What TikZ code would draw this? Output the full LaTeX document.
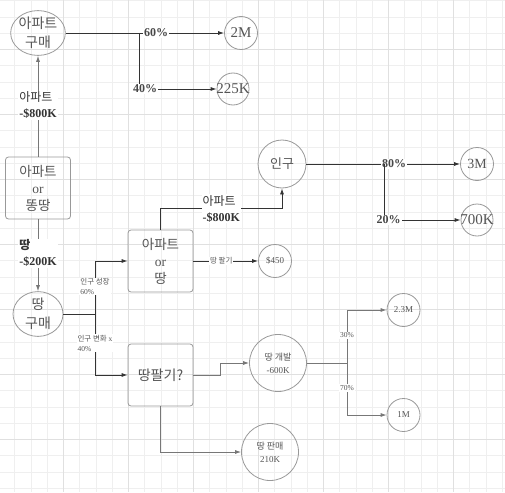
\documentclass[tikz,border=0pt]{standalone}
\usepackage{fontspec}
\setmainfont{Liberation Serif}
\newfontfamily\kr{Noto Sans CJK KR}
\usetikzlibrary{shapes.geometric,arrows.meta}
\definecolor{gmin}{HTML}{EFEFEF}
\definecolor{gmaj}{HTML}{E0E0E0}
\definecolor{bord}{HTML}{999999}
\definecolor{txt}{HTML}{555555}
\definecolor{edgec}{HTML}{333333}
\definecolor{edgel}{HTML}{777777}
\begin{document}
\begin{tikzpicture}[x=1pt,y=-1pt,
  ell/.style={ellipse,draw=bord,line width=0.8pt,inner sep=0pt,minimum width=50pt,minimum height=38pt,align=center,text=txt,font=\kr\fontsize{14}{19}\selectfont},
  boxn/.style={rectangle,rounded corners=3pt,draw=bord,line width=0.8pt,inner sep=0pt,minimum width=65pt,minimum height=62pt,align=center,text=txt,font=\kr\fontsize{13.5}{17}\selectfont},
  bigc/.style={circle,draw=bord,line width=0.8pt,inner sep=0pt,minimum size=33pt,text=txt,font=\fontsize{15}{18}\selectfont},
  smc/.style={circle,draw=bord,line width=0.8pt,inner sep=0pt,minimum size=33pt,text=txt,font=\fontsize{9}{11}\selectfont},
  midc/.style={circle,draw=bord,line width=0.8pt,inner sep=0pt,minimum size=57pt,align=center,text=txt,font=\fontsize{9}{13}\selectfont},
  edge/.style={draw=edgec,line width=0.8pt},
  edgeL/.style={draw=edgel,line width=0.8pt},
  arr/.style={edge,-{Latex[length=6pt,width=4pt]}},
  arrl/.style={edgeL,-{Latex[length=6pt,width=4pt]}},
  pct/.style={fill=white,inner sep=1pt,text=edgec!90,font=\bfseries\fontsize{12}{14}\selectfont},
  mlab/.style={fill=white,inner sep=1pt,align=left,text=edgec,font=\bfseries\fontsize{12}{16}\selectfont},
  slab/.style={fill=white,inner sep=1pt,align=left,text=txt,font=\fontsize{7.5}{9.5}\selectfont}
]
\useasboundingbox (0,0) rectangle (505,492);
\fill[white] (0,0) rectangle (505,492);
% grid
\foreach \i in {0,...,30} {
  \draw[gmin,line width=0.5pt] ({14.55+16.25*\i},0) -- ({14.55+16.25*\i},492);
  \draw[gmin,line width=0.5pt] (0,{0.55+16.25*\i}) -- (505,{0.55+16.25*\i});
}
\foreach \k in {1,...,7} {
  \draw[gmaj,line width=0.7pt] ({-1.7+65*\k},0) -- ({-1.7+65*\k},492);
}
\foreach \k in {0,...,6} {
  \draw[gmaj,line width=0.7pt] (0,{49.3+65*\k}) -- (505,{49.3+65*\k});
}
% nodes
\node[ell] (apt) at (38,33) {아파트\\구매};
\node[bigc] (m2) at (241,33) {\makebox[0pt]{2M}};
\node[bigc,minimum size=32pt] (k225) at (233,89) {\makebox[0pt]{225K}};
\node[boxn] (ab) at (38,188) {아파트\\{\rmfamily or}\\똥땅};
\node[ell] (land) at (38,314) {땅\\구매};
\node[boxn] (ao) at (160.5,261) {아파트\\{\rmfamily or}\\땅};
\node[boxn,font=\kr\fontsize{14}{17}\selectfont] (lb) at (160.5,375) {땅팔기?};
\node[smc] (c450) at (275,261) {\$450};
\node[circle,draw=bord,line width=0.8pt,inner sep=0pt,minimum size=48pt,text=txt,font=\kr\fontsize{13}{15}\selectfont] (pop) at (282,164) {인구};
\node[bigc,font=\fontsize{14}{16}\selectfont] (m3) at (477,164) {\makebox[0pt]{3M}};
\node[bigc,minimum size=32pt] (k700) at (477,220) {\makebox[0pt]{700K}};
\node[midc] (dev) at (278,363) {{\kr 땅 개발}\\-600K};
\node[smc] (m23) at (403.5,310) {2.3M};
\node[smc] (m1) at (403.5,415) {1M};
\node[midc] (sale) at (270,452) {{\kr 땅 판매}\\210K};
% coordinates
\coordinate (b1) at (139,33);
\coordinate (b2) at (95,314);
\coordinate (b4) at (384,164);
\coordinate (b3) at (347,363);
% edges
\draw[arr] (apt.east) -- node[pct,pos=0.57]{60\%} (m2.west);
\draw[arr] (b1) |- node[pct,pos=0.54]{40\%} (k225.west);
\draw[arrl] (ab.north) -- node[mlab,pos=0.51]{{\kr\mdseries 아파트}\\-\$800K} (apt.south);
\draw[arrl] (ab.south) -- node[mlab,pos=0.47]{{\kr 땅}\\-\$200K} (land.north);
\draw[edge] (land.east) -- (b2);
\draw[arr] (b2) |- node[slab,pos=0.26]{{\kr 인구 성장}\\60\%} (ao.west);
\draw[arr] (b2) |- node[slab,pos=0.24]{{\kr 인구 변화} x\\40\%} (lb.west);
\draw[arr] (ao.east) -- node[slab,pos=0.43]{\kr 땅 팔기} (c450.west);
\draw[arr] (ao.north) -- ++(0,-21) -| node[mlab,pos=0.25]{{\kr\mdseries 아파트}\\-\$800K} (pop.south);
\draw[arr] (pop.east) -- node[pct,pos=0.57]{80\%} (m3.west);
\draw[arr] (b4) |- node[pct,pos=0.53]{20\%} (k700.west);
\draw[arrl] (lb.east) -- ++(27,0) |- (dev.west);
\draw[edgeL] (dev.east) -- (b3);
\draw[arrl] (b3) |- node[slab,pos=0.26]{30\%} (m23.west);
\draw[arrl] (b3) |- node[slab,pos=0.24]{70\%} (m1.west);
\draw[arrl] (lb.south) |- (sale.west);
\end{tikzpicture}
\end{document}
